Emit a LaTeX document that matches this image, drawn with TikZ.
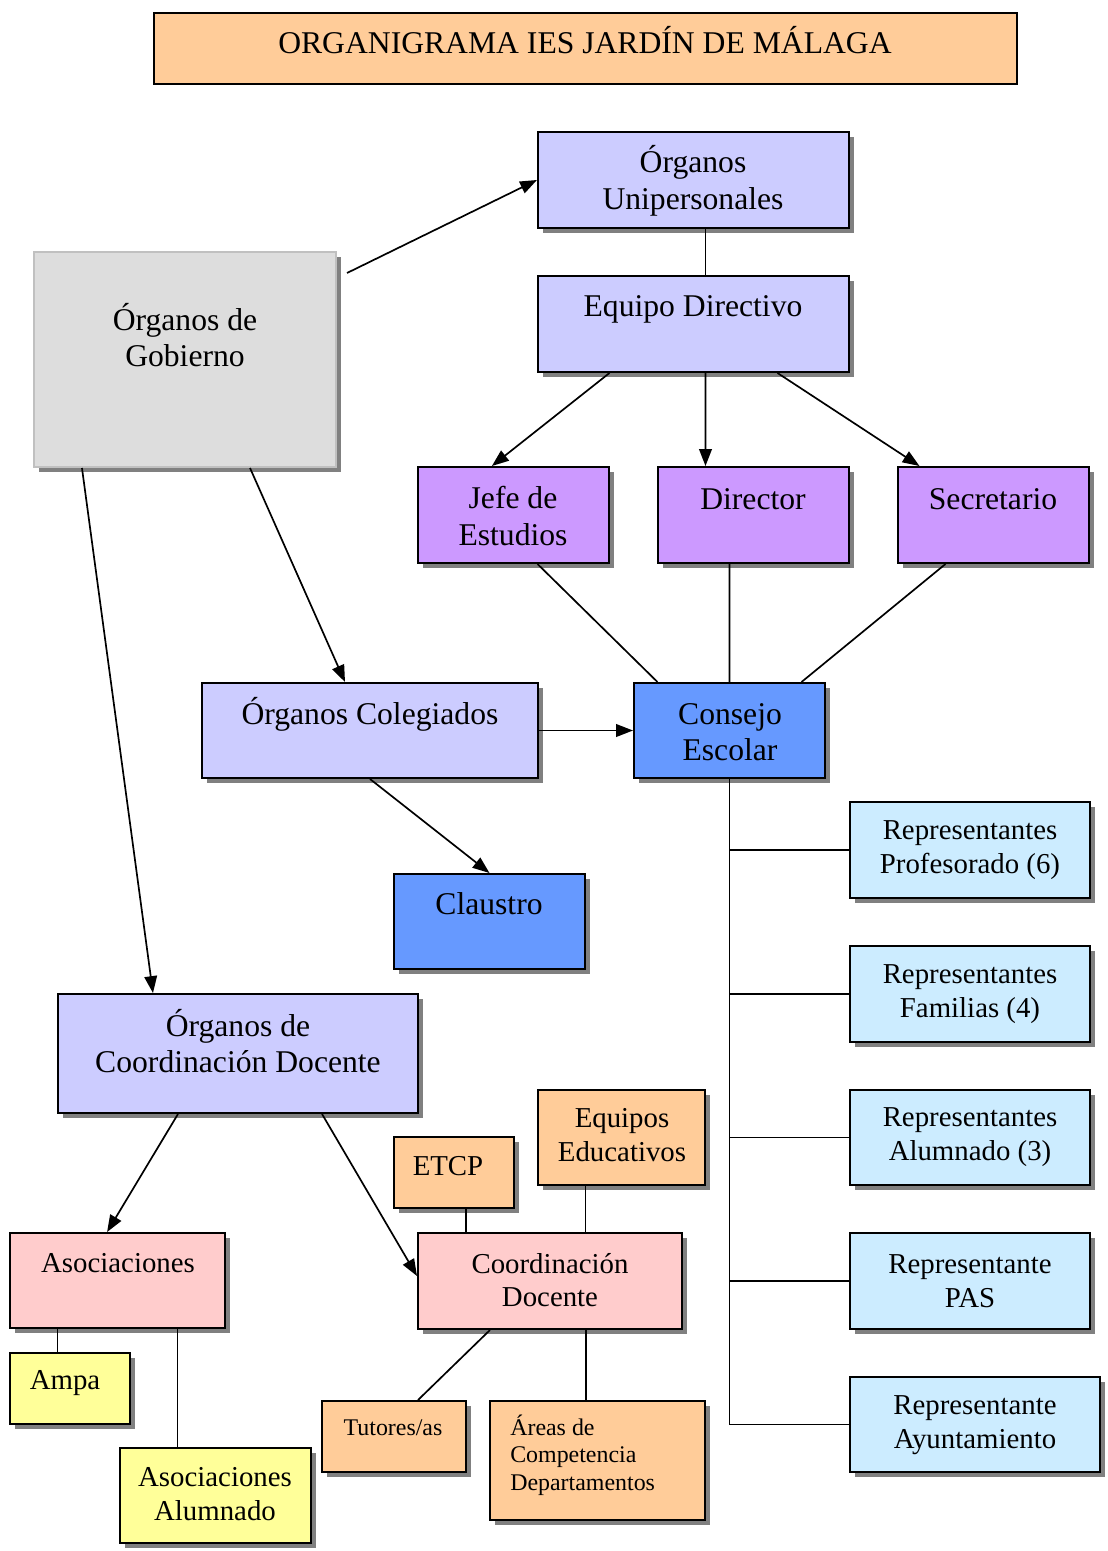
\documentclass[tikz,border=0pt]{standalone}
\usepackage{fontspec}
\setmainfont{Liberation Serif}
\usepackage{xcolor}
\usetikzlibrary{arrows.meta,shadows}

\definecolor{lila}{HTML}{CCCCFF}
\definecolor{morado}{HTML}{CC99FF}
\definecolor{azul}{HTML}{6699FF}
\definecolor{celeste}{HTML}{CCECFF}
\definecolor{salmon}{HTML}{FFCC99}
\definecolor{rosa}{HTML}{FFCCCC}
\definecolor{amarillo}{HTML}{FFFF99}
\definecolor{grisclaro}{HTML}{DDDDDD}
\definecolor{grisborde}{HTML}{C0C0C0}

\tikzset{
  box/.style={draw, line width=1.4pt, inner sep=0pt,
    drop shadow={shadow xshift=3.5pt, shadow yshift=-3.5pt, fill=black!50, opacity=1}},
  txtbig/.style={font=\fontsize{22.5}{26}\selectfont, align=center, inner sep=0pt},
  txtmid/.style={font=\fontsize{20.5}{24}\selectfont, align=center, inner sep=0pt},
  txtsmall/.style={font=\fontsize{17}{19.5}\selectfont, align=center, inner sep=0pt},
  con/.style={line width=1.2pt},
  arr/.style={con, -{Triangle[length=12pt,width=9pt]}}
}

\begin{document}
\begin{tikzpicture}[x=0.025cm,y=-0.025cm]
  \useasboundingbox (0,0) rectangle (1108,1551);

  % title
  \node[draw, line width=1.4pt, fill=salmon, minimum width=21.575cm, minimum height=1.775cm] (titulo) at (585.5,48.5) {};
  \node[txtbig] (titulo-t) at (585,40) {ORGANIGRAMA IES JARDÍN DE MÁLAGA};

  % boxes
  \node[box, fill=lila, minimum width=7.775cm, minimum height=2.4cm] (uni) at (693.5,180) {};
  \node[box, draw=grisborde, fill=grisclaro, minimum width=7.55cm, minimum height=5.375cm] (gob) at (185,359.5) {};
  \node[box, fill=lila, minimum width=7.775cm, minimum height=2.4cm] (equ) at (693.5,324) {};
  \node[box, fill=morado, minimum width=4.775cm, minimum height=2.4cm] (jefe) at (513.5,515) {};
  \node[box, fill=morado, minimum width=4.775cm, minimum height=2.4cm] (dir) at (753.5,515) {};
  \node[box, fill=morado, minimum width=4.775cm, minimum height=2.4cm] (sec) at (993.5,515) {};
  \node[box, fill=lila, minimum width=8.4cm, minimum height=2.375cm] (col) at (370,730.5) {};
  \node[box, fill=azul, minimum width=4.775cm, minimum height=2.375cm] (cons) at (729.5,730.5) {};
  \node[box, fill=azul, minimum width=4.775cm, minimum height=2.375cm] (cla) at (489.5,921.5) {};
  \node[box, fill=celeste, minimum width=6cm, minimum height=2.4cm] (rep1) at (970,850) {};
  \node[box, fill=celeste, minimum width=6cm, minimum height=2.4cm] (rep2) at (970,994) {};
  \node[box, fill=celeste, minimum width=6cm, minimum height=2.375cm] (rep3) at (970,1137.5) {};
  \node[box, fill=celeste, minimum width=6cm, minimum height=2.4cm] (rep4) at (970,1281) {};
  \node[box, fill=celeste, minimum width=6.25cm, minimum height=2.375cm] (rep5) at (975,1424.5) {};
  \node[box, fill=lila, minimum width=9cm, minimum height=2.975cm] (ocd) at (238,1053.5) {};
  \node[box, fill=salmon, minimum width=4.175cm, minimum height=2.375cm] (eqe) at (621.5,1137.5) {};
  \node[box, fill=salmon, minimum width=3cm, minimum height=1.775cm] (etcp) at (454,1172.5) {};
  \node[box, fill=rosa, minimum width=6.6cm, minimum height=2.4cm] (cd) at (550,1281) {};
  \node[box, fill=rosa, minimum width=5.375cm, minimum height=2.375cm] (aso) at (117.5,1280.5) {};
  \node[box, fill=amarillo, minimum width=3cm, minimum height=1.775cm] (ampa) at (70,1388.5) {};
  \node[box, fill=amarillo, minimum width=4.775cm, minimum height=2.375cm] (aal) at (215.5,1495.5) {};
  \node[box, fill=salmon, minimum width=3.6cm, minimum height=1.775cm] (tut) at (394,1436.5) {};
  \node[box, fill=salmon, minimum width=5.375cm, minimum height=2.975cm] (areas) at (597.5,1460.5) {};

  % texts
  \node[txtbig] (uni-t) at (693,181) {Órganos\\Unipersonales};
  \node[txtbig] (gob-t) at (185,335) {Órganos de\\Gobierno};
  \node[txtbig] (equ-t) at (693,309) {Equipo Directivo};
  \node[txtbig] (jefe-t) at (513,516) {Jefe de\\Estudios};
  \node[txtbig] (dir-t) at (753,499) {Director};
  \node[txtbig] (sec-t) at (993,499) {Secretario};
  \node[txtbig] (col-t) at (370,714) {Órganos Colegiados};
  \node[txtbig] (cons-t) at (730,732) {Consejo\\Escolar};
  \node[txtbig] (cla-t) at (489,904) {Claustro};
  \node[txtmid] (rep1-t) at (970,850) {Representantes\\Profesorado (6)};
  \node[txtmid] (rep2-t) at (970,994) {Representantes\\Familias (4)};
  \node[txtmid] (rep3-t) at (970,1137) {Representantes\\Alumnado (3)};
  \node[txtmid] (rep4-t) at (970,1281) {Representante\\PAS};
  \node[txtmid] (rep5-t) at (975,1425) {Representante\\Ayuntamiento};
  \node[txtbig] (ocd-t) at (238,1041) {Órganos de\\Coordinación Docente};
  \node[txtmid] (eqe-t) at (622,1135) {Equipos\\Educativos};
  \node[txtmid] (etcp-t) at (448,1166) {ETCP};
  \node[txtmid] (cd-t) at (550,1280) {Coordinación\\Docente};
  \node[txtmid] (aso-t) at (118,1263) {Asociaciones};
  \node[txtmid] (ampa-t) at (65,1383) {Ampa};
  \node[txtmid] (aal-t) at (215,1494) {Asociaciones\\Alumnado};
  \node[txtsmall] (tut-t) at (393,1428) {Tutores/as};
  \node[txtsmall, align=left, anchor=west] (areas-t) at (510,1455) {Áreas de\\Competencia\\Departamentos};

  % connectors
  \draw[arr] ([xshift=0.25cm,yshift=-0.55cm]gob.north east) -- (uni.west);
  \draw[con] ([xshift=0.3cm]uni.south) -- ([xshift=0.3cm]equ.north);
  \draw[arr] ([xshift=-2.1cm]equ.south) -- ([xshift=-0.54cm]jefe.north);
  \draw[arr] ([xshift=0.3cm]equ.south) -- ([xshift=-1.2cm]dir.north);
  \draw[arr] ([xshift=2.1cm]equ.south) -- ([xshift=-1.85cm]sec.north);
  \draw[con] ([xshift=0.6cm]jefe.south) -- ([xshift=-1.8cm]cons.north);
  \draw[con] ([xshift=-0.6cm]dir.south) -- (cons.north);
  \draw[con] ([xshift=-1.2cm]sec.south) -- ([xshift=1.8cm]cons.north);
  \draw[arr] ([xshift=1.625cm]gob.south) -- ([xshift=-0.625cm]col.north);
  \draw[arr] ([xshift=-2.575cm]gob.south) -- ([xshift=-2.125cm]ocd.north);
  \draw[arr] (col.east) -- (cons.west);
  \draw[arr] (col.south) -- (cla.north);
  \foreach \r in {rep1,rep2,rep3,rep4,rep5}
    \draw[con] (cons.south) |- (\r.west);
  \draw[arr] ([xshift=-1.5cm]ocd.south) -- ([xshift=-0.26cm]aso.north);
  \draw[arr] ([xshift=2.1cm]ocd.south) -- ([yshift=0.125cm]cd.west);
  \draw[con] ([xshift=0.3cm]etcp.south) -- ([xshift=0.3cm]etcp.south |- cd.north);
  \draw[con] ([xshift=-0.9cm]eqe.south) -- ([xshift=-0.9cm]eqe.south |- cd.north);
  \draw[con] ([xshift=-1.5cm]cd.south) -- ([xshift=0.6cm]tut.north);
  \draw[con] ([xshift=0.9cm]cd.south) -- ([xshift=0.9cm]cd.south |- areas.north);
  \draw[con] ([xshift=-1.5cm]aso.south) -- ([xshift=-1.5cm]aso.south |- ampa.north);
  \draw[con] ([xshift=1.5cm]aso.south) -- ([xshift=1.5cm]aso.south |- aal.north);
\end{tikzpicture}
\end{document}
